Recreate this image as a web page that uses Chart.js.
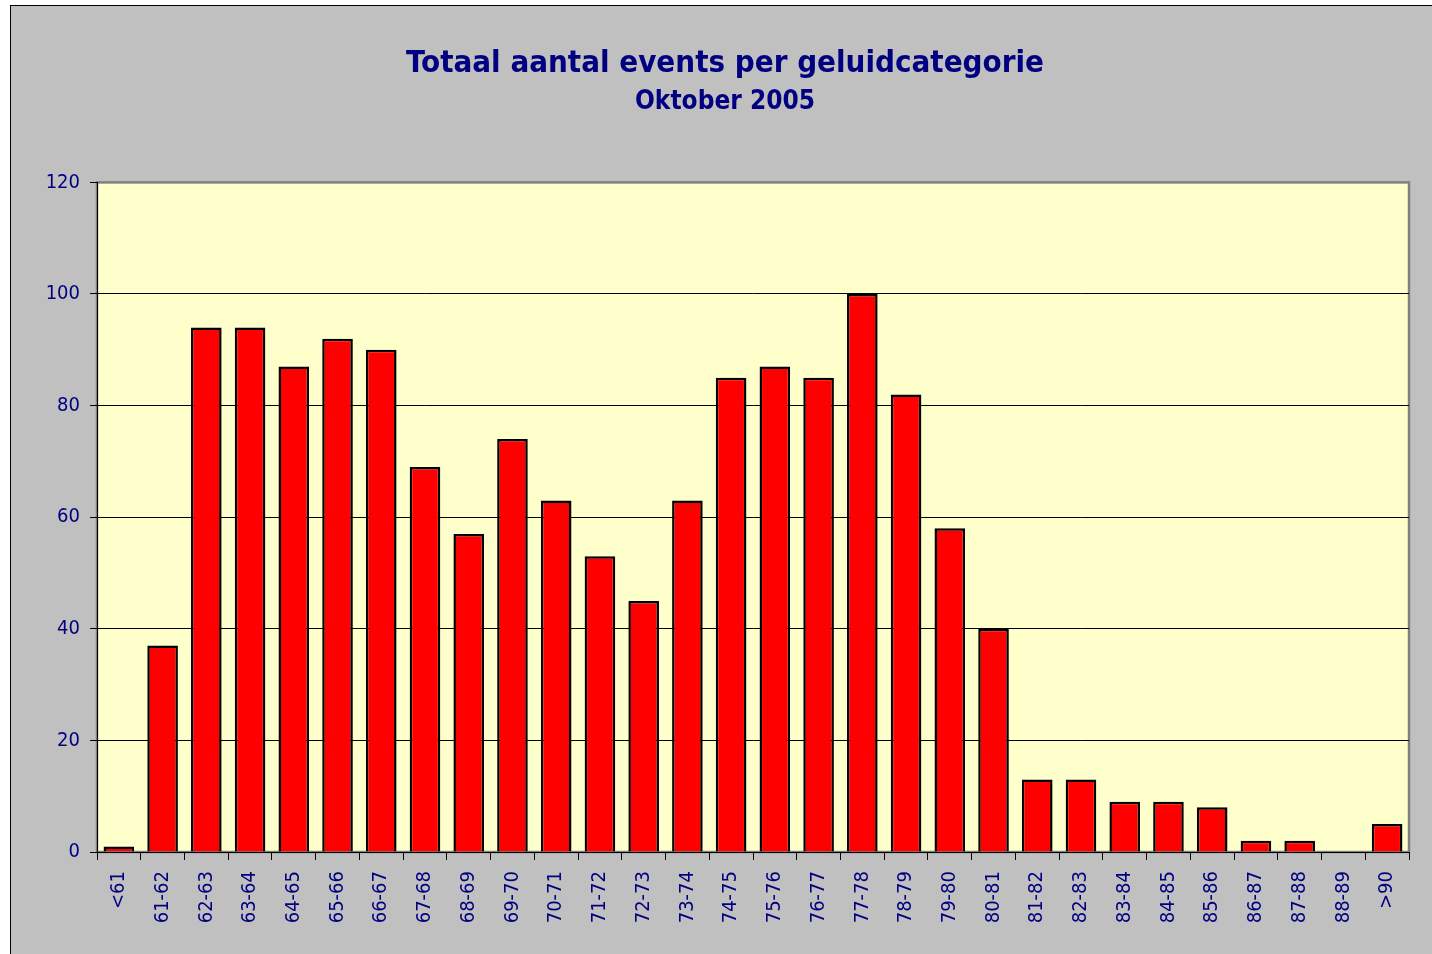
<!DOCTYPE html>
<html>
<head>
<meta charset="utf-8">
<style>
  html, body { margin: 0; padding: 0; background: #ffffff; }
  #wrap { width: 1432px; height: 954px; }
</style>
<script src="https://cdn.jsdelivr.net/npm/chart.js@4"></script>
</head>
<body>
<div id="wrap"><canvas id="chart" width="1432" height="954"></canvas></div>
<script>
// categories and counts
var categories = ['<61', '61-62', '62-63', '63-64', '64-65', '65-66', '66-67', '67-68', '68-69', '69-70',
                  '70-71', '71-72', '72-73', '73-74', '74-75', '75-76', '76-77', '77-78', '78-79', '79-80',
                  '80-81', '81-82', '82-83', '83-84', '84-85', '85-86', '86-87', '87-88', '88-89', '>90'];
var events = [1, 37, 94, 94, 87, 92, 90, 69, 57, 74,
              63, 53, 45, 63, 85, 87, 85, 100, 82, 58,
              40, 13, 13, 9, 9, 8, 2, 2, 0, 5];
var yTicks = [0, 20, 40, 60, 80, 100, 120];

var navy = '#000080';
var family = '"DejaVu Sans Condensed", "DejaVu Sans", sans-serif';
var tickFont = { family: family, size: 20 };

// grey chart background with thin black frame, yellow plot area
var backdrop = {
    id: 'backdrop',
    beforeDraw: function (chart) {
        var c = chart.ctx, a = chart.chartArea;
        c.save();
        c.fillStyle = '#ffffff';
        c.fillRect(0, 0, chart.width, chart.height);
        c.fillStyle = '#c0c0c0';
        c.fillRect(10, 5, chart.width, chart.height);
        c.strokeStyle = '#000000';
        c.lineWidth = 1;
        c.strokeRect(10.5, 5.5, chart.width + 10, chart.height + 10);
        c.fillStyle = '#ffffcc';
        c.fillRect(a.left, a.top, a.right - a.left, a.bottom - a.top);
        c.strokeStyle = '#808080';
        c.lineWidth = 2.5;
        c.strokeRect(a.left, a.top, a.right - a.left, a.bottom - a.top);
        c.restore();
    }
};

var ctx = document.getElementById('chart').getContext('2d');
var chart = new Chart(ctx, {
    type: 'bar',
    data: {
        labels: categories,
        datasets: [{
            label: 'Events',
            data: events,
            backgroundColor: '#ff0000',
            borderColor: '#000000',
            borderWidth: 2.5,
            barPercentage: 0.7,
            categoryPercentage: 1
        }]
    },
    options: {
        responsive: false,
        animation: false,
        layout: { padding: { left: 41, right: 23, top: 0, bottom: 0 } },
        plugins: {
            legend: { display: false },
            tooltip: { enabled: false },
            title: {
                display: true,
                text: 'Totaal aantal events per geluidcategorie',
                color: navy,
                font: { family: family, size: 31, weight: 'bold' },
                padding: { top: 45, bottom: 4 }
            },
            subtitle: {
                display: true,
                text: 'Oktober 2005',
                color: navy,
                font: { family: family, size: 26, weight: 'bold' },
                padding: { top: 0, bottom: 65 }
            }
        },
        scales: {
            x: {
                offset: true,
                grid: {
                    offset: true,
                    drawOnChartArea: false,
                    tickLength: 8,
                    tickColor: '#000000'
                },
                border: { color: '#000000', width: 1 },
                ticks: {
                    color: navy,
                    font: tickFont,
                    minRotation: 90,
                    maxRotation: 90,
                    autoSkip: false,
                    padding: 11
                },
                afterFit: function (s) { s.height = 102; }
            },
            y: {
                min: 0,
                max: 120,
                afterBuildTicks: function (s) {
                    s.ticks = yTicks.map(function (v) { return { value: v }; });
                },
                grid: {
                    color: function (c) { return c.tick && c.tick.value === 120 ? 'rgba(0,0,0,0)' : '#000000'; },
                    tickColor: '#000000',
                    tickLength: 7,
                    lineWidth: 1
                },
                border: { color: '#000000', width: 1 },
                ticks: {
                    color: navy,
                    font: tickFont,
                    padding: 10
                },
                afterFit: function (s) { s.width = 56; }
            }
        }
    },
    plugins: [backdrop]
});
</script>
</body>
</html>
